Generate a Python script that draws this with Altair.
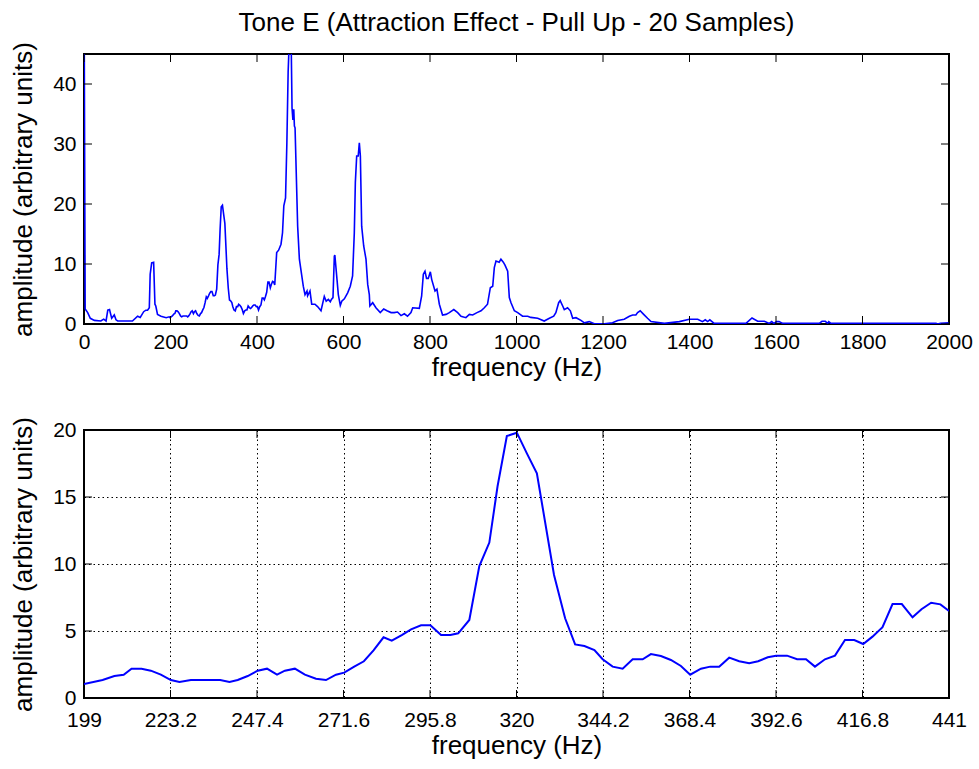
import altair as alt
import pandas as pd

# ---- data ----
low_freq = [0, 2.7, 8.5, 14.6, 24, 39, 45.5, 51, 55, 59, 64, 70, 74, 78, 93, 112, 124, 130, 138, 143,
            147, 151, 153, 156.5, 161, 164, 166, 170, 178, 190, 197]
low_amp = [60, 2.5, 1.9, 0.95, 0.6, 0.5, 0.8, 0.5, 2.3, 2.4, 0.95, 1.5, 0.7, 0.5, 0.5, 0.5, 1.3, 1.1, 2.05, 2.3,
           2.3, 2.7, 8.3, 10.2, 10.3, 3.3, 3.0, 1.6, 1.3, 1.05, 1.2]

zoom_freq = [199, 204.2, 207.5, 210.1, 212.3, 215.1, 217.7, 220.5, 223.3, 225.7,
             228.9, 231.7, 234.5, 237.1, 239.7, 242.0, 244.8, 247.6, 250.2, 253.0,
             255.2, 258.0, 260.8, 263.9, 266.7, 269.5, 271.8, 274.6, 277.3, 280.0,
             282.8, 285.1, 287.9, 290.5, 293.3, 295.9, 298.9, 301.5, 303.7, 306.8,
             309.6, 312.4, 314.7, 317.3, 320.1, 322.9, 325.7, 330.5, 333.6, 336.4,
             339.0, 341.8, 344.1, 346.9, 349.7, 352.5, 355.3, 357.6, 360.4, 363.2,
             366.0, 368.6, 371.6, 374.2, 376.7, 379.5, 382.3, 385.1, 387.6, 390.3,
             392.6, 395.7, 398.5, 401.0, 403.5, 406.3, 409.1, 411.9, 414.5, 417.0,
             419.6, 422.4, 425.2, 427.8, 430.8, 433.3, 436.0, 438.6, 441]
zoom_amp = [1.04, 1.34, 1.64, 1.74, 2.19, 2.19, 2.04, 1.74, 1.34, 1.19,
            1.34, 1.34, 1.34, 1.34, 1.19, 1.34, 1.64, 2.04, 2.19, 1.74,
            2.04, 2.19, 1.74, 1.44, 1.34, 1.74, 1.89, 2.34, 2.74, 3.55,
            4.53, 4.28, 4.7, 5.12, 5.42, 5.42, 4.7, 4.7, 4.83, 5.82,
            9.85, 11.6, 15.8, 19.55, 19.8, 18.26, 16.77, 9.18, 5.95, 4.0,
            3.88, 3.58, 2.89, 2.34, 2.19, 2.89, 2.89, 3.28, 3.13, 2.84,
            2.39, 1.74, 2.19, 2.34, 2.34, 3.01, 2.74, 2.59, 2.74, 3.04,
            3.16, 3.16, 2.89, 2.89, 2.34, 2.89, 3.16, 4.33, 4.33, 4.03,
            4.58, 5.28, 7.01, 7.01, 6.02, 6.62, 7.11, 6.99, 6.5]

high_freq = [445.5, 450, 455.5, 459, 462, 466, 469, 472, 474.5, 479,
             481, 483, 485, 486.5, 488, 494, 498, 503, 507, 511,
             515.6, 517, 522.5, 526.5, 534, 540, 548, 555.6, 560, 565,
             569.5, 572, 575.7, 578.8, 580, 585, 588, 592.6, 596, 602,
             609.6, 615.7, 621, 625, 627.4, 630.5, 634, 636.6, 639, 642,
             646.7, 652, 656, 659.7, 661, 667.5, 675, 685, 693, 700.6,
             710, 717, 725, 733, 740.6, 748, 756, 760, 775.3, 780.7,
             784.6, 788.4, 792, 796, 800.8, 804, 811.6, 816, 821.6, 829,
             837, 844.7, 855, 864, 871.7, 883, 891, 898.7, 908.7, 918,
             925.6, 933, 939.5, 945, 948.7, 952.6, 960, 964, 969.5, 973.4,
             979.6, 983.4, 987.3, 995, 1002.8, 1014, 1026, 1033, 1049, 1064,
             1076, 1086, 1091, 1097.5, 1101, 1106.8, 1110.5, 1118, 1124.5, 1130,
             1137.6, 1149, 1157, 1168, 1180, 1203, 1222, 1234, 1249, 1261,
             1268.6, 1276, 1280, 1286, 1294, 1303, 1311, 1342, 1376.5, 1399.6,
             1419, 1430, 1436.5, 1442, 1447, 1457, 1530.6, 1544.5, 1557.7, 1573,
             1584.6, 1590, 1595, 1601.5, 1607, 1615.5, 1700, 1706.4, 1714, 1719.5,
             1722, 1727, 1970, 1974, 1980, 2000]
high_amp = [11.9, 12.3, 13.3, 15.2, 19.7, 21, 30, 42, 47, 47,
            36, 34, 35.8, 33, 32.7, 16.3, 10.8, 8.3, 6.3, 4.9,
            5.5, 4.7, 5.5, 3.3, 3.3, 2.9, 2.2, 4.6, 3.8, 4.1,
            3.7, 4.1, 4.4, 11.3, 11.5, 7.4, 4.9, 3.1, 3.8, 4.2,
            5.2, 6.3, 8.0, 15.2, 23.6, 28, 28, 30.2, 28, 16.3,
            13, 10.8, 6.6, 4.9, 3.0, 3.55, 2.7, 1.9, 2.5, 2.2,
            1.9, 1.9, 2.0, 1.4, 1.7, 1.3, 1.9, 2.7, 2.6, 4.7,
            8.3, 8.8, 7.6, 7.6, 8.7, 7.4, 5.5, 5.8, 3.3, 1.5,
            1.6, 1.9, 2.4, 1.9, 1.3, 1.05, 1.6, 1.5, 1.9, 2.2,
            2.7, 3.3, 6.05, 6.3, 9.4, 10.5, 10.3, 10.8, 10.3, 9.8,
            8.8, 4.4, 3.55, 2.2, 1.9, 1.3, 1.3, 1.1, 0.95, 0.5,
            0.95, 1.3, 1.9, 3.55, 3.9, 3.0, 2.4, 2.7, 2.2, 0.95,
            1.05, 0.6, 0.2, 0.4, 0.05, 0.05, 0.2, 0.6, 0.8, 1.3,
            1.5, 1.5, 1.9, 2.2, 1.6, 0.95, 0.4, 0.1, 0.4, 0.8,
            0.8, 0.4, 0.7, 0.4, 0.7, 0.1, 0.1, 1.0, 0.45, 0.45,
            0.1, 0.4, 0.1, 0.4, 0.4, 0.1, 0.1, 0.45, 0.45, 0.1,
            0.4, 0.1, 0.1, 0.0, 0.1, 0.2]

top_xticks = [0, 200, 400, 600, 800, 1000, 1200, 1400, 1600, 1800, 2000]
top_yticks = [0, 10, 20, 30, 40]
bot_xticks = [199, 223.2, 247.4, 271.6, 295.8, 320, 344.2, 368.4, 392.6, 416.8, 441]
bot_yticks = [0, 5, 10, 15, 20]

title_text = "Tone E (Attraction Effect - Pull Up - 20 Samples)"
xlabel = "frequency (Hz)"
ylabel = "amplitude (arbitrary units)"

FONT = "Liberation Sans"
W, H1, H2 = 865, 270, 268
TICK = 8
BLUE = "#0000FF"
LBL, TTL = 21, 26

top_df = pd.DataFrame({"f": low_freq + zoom_freq + high_freq,
                       "a": low_amp + zoom_amp + high_amp})
bot_df = pd.DataFrame({"f": zoom_freq, "a": zoom_amp})


def panel(df, xdom, ydom, xticks, yticks, h, grid, fmt, lw, xpad):
    xs = alt.Scale(domain=xdom, nice=False, zero=False, padding=0)
    ys = alt.Scale(domain=ydom, nice=False, padding=0)
    axis_common = dict(ticks=False, domain=False, labelFont=FONT, titleFont=FONT,
                       labelFontSize=LBL, titleFontSize=TTL, labelColor="black",
                       titleColor="black", titleFontWeight="normal", grid=grid,
                       labelFlush=False, labelOverlap=False,
                       gridColor="black", gridDash=[1.5, 3], gridWidth=1, gridOpacity=1)
    line = alt.Chart(df).mark_line(color=BLUE, strokeWidth=lw, clip=True).encode(
        x=alt.X("f:Q", scale=xs, axis=alt.Axis(values=xticks, format=fmt, title=xlabel,
                                                labelPadding=xpad, titlePadding=2, **axis_common)),
        y=alt.Y("a:Q", scale=ys, axis=alt.Axis(values=yticks, title=ylabel,
                                                labelPadding=8, titlePadding=16, **axis_common)),
    )
    xt = pd.DataFrame({"f": xticks})
    yt = pd.DataFrame({"a": yticks})
    rule = dict(color="black", strokeWidth=1)
    xb = alt.Chart(xt).mark_rule(**rule).encode(x=alt.X("f:Q", scale=xs), y=alt.value(h), y2=alt.value(h - TICK))
    xtop = alt.Chart(xt).mark_rule(**rule).encode(x=alt.X("f:Q", scale=xs), y=alt.value(0), y2=alt.value(TICK))
    yl = alt.Chart(yt).mark_rule(**rule).encode(y=alt.Y("a:Q", scale=ys), x=alt.value(0), x2=alt.value(TICK))
    yr = alt.Chart(yt).mark_rule(**rule).encode(y=alt.Y("a:Q", scale=ys), x=alt.value(W), x2=alt.value(W - TICK))
    return alt.layer(line, xb, xtop, yl, yr).properties(width=W, height=h)


top = panel(top_df, [0, 2000], [0, 45], top_xticks, top_yticks, H1, False, "d", 1.6, 7).properties(
    title=alt.TitleParams(title_text, font=FONT, fontSize=TTL, fontWeight="normal", color="black",
                          anchor="middle", offset=6)
)
bot = panel(bot_df, [199, 441], [0, 20], bot_xticks, bot_yticks, H2, True, ".1~f", 2, 11)

chart = alt.vconcat(top, bot, spacing=34).configure(
    padding={"left": 9, "top": 8, "right": 5, "bottom": 5},
    background="white",
).configure_view(stroke="black", strokeWidth=2)

chart.save("out.html", embed_options={"renderer": "svg", "actions": False})
